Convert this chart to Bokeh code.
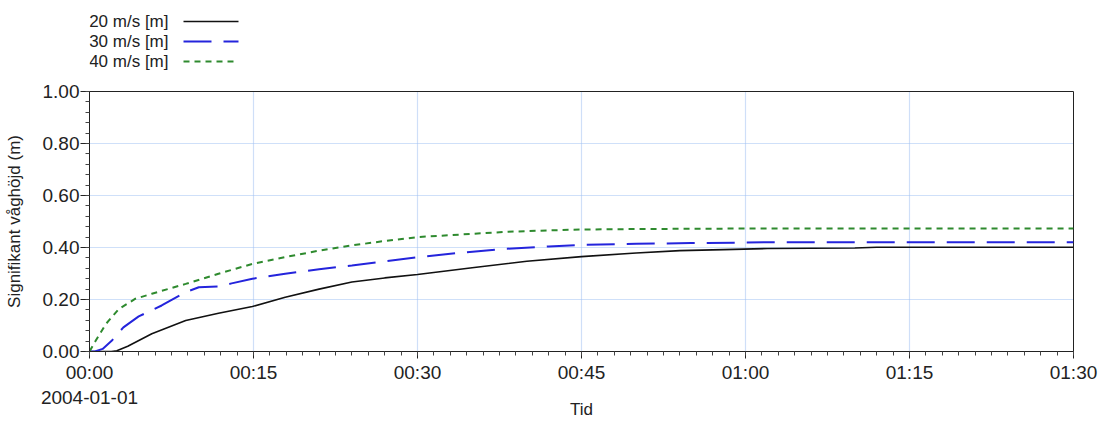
from datetime import datetime, timedelta
from bokeh.plotting import figure
from bokeh.layouts import column
from bokeh.models import Range1d, FixedTicker, DatetimeTickFormatter, NumeralTickFormatter
from bokeh.core.properties import value
from bokeh.embed import file_html
from bokeh.resources import INLINE

# ---- data (minutes after 2004-01-01 00:00, significant wave height in m) ----
t20 = [0, 1, 2, 2.5, 3.5, 5.7, 8.8, 11.8, 14.9, 17.9, 21, 24, 27, 30, 35, 40, 45, 50, 54, 58, 62, 66, 70, 72, 80, 90]
h20 = [0, 0, 0, 0.003, 0.02, 0.068, 0.119, 0.147, 0.173, 0.209, 0.24, 0.267, 0.283, 0.296, 0.322, 0.347, 0.365,
       0.379, 0.388, 0.392, 0.396, 0.397, 0.398, 0.401, 0.401, 0.401]
t30 = [0, 0.5, 1.2, 2, 3.1, 4.5, 6.6, 8.8, 10, 11.8, 13, 14.9, 17.9, 21, 24, 27, 30, 34, 38, 42, 45, 50, 55, 62, 70, 80, 90]
h30 = [0, 0, 0.01, 0.04, 0.093, 0.135, 0.177, 0.228, 0.247, 0.25, 0.262, 0.28, 0.299, 0.316, 0.331, 0.347, 0.363,
       0.38, 0.395, 0.404, 0.41, 0.414, 0.417, 0.42, 0.42, 0.42, 0.42]
t40 = [0, 0.55, 1.5, 2.7, 4.2, 5.7, 8.8, 11.8, 14.9, 17.9, 21, 24, 27, 30, 34, 38, 42, 45, 50, 60, 70, 90]
h40 = [0, 0.04, 0.106, 0.164, 0.203, 0.222, 0.26, 0.299, 0.337, 0.363, 0.388, 0.408, 0.425, 0.44, 0.45, 0.46,
       0.466, 0.469, 0.471, 0.473, 0.473, 0.473]

series_names = ["20 m/s [m]", "30 m/s [m]", "40 m/s [m]"]
x_tick_minutes = [0, 15, 30, 45, 60, 75, 90]
y_ticks = [0.0, 0.2, 0.4, 0.6, 0.8, 1.0]

base = datetime(2004, 1, 1)
EPOCH = datetime(1970, 1, 1)


def to_dt(mins):
    return [base + timedelta(minutes=m) for m in mins]


def to_ms(mins):
    return [((base + timedelta(minutes=m)) - EPOCH).total_seconds() * 1000.0 for m in mins]


FONT = "Liberation Sans"
TXT = "#222222"
W = 1100
LEG_H = 72
FL, FR = 89, 1073   # frame left / right in page pixels

styles = [
    dict(color="#111111", width=1.6, dash="solid"),
    dict(color="#2424dc", width=2.0, dash="28 12"),
    dict(color="#2e8a2e", width=2.0, dash="6 5"),
]

# ---- legend strip (page-pixel coordinates, y down; frame aligned with main chart) ----
leg = figure(width=W, height=LEG_H, x_range=Range1d(FL, FR), y_range=Range1d(LEG_H, 0),
             output_backend="svg", toolbar_location=None, min_border=0,
             min_border_left=FL, min_border_right=W - FR)
leg.axis.visible = False
leg.grid.visible = False
leg.outline_line_color = None
for i, (name, st) in enumerate(zip(series_names, styles)):
    cy = 21 + i * 20
    leg.text(x=[168], y=[cy], text=[name], text_align="right", text_baseline="middle",
             text_font=value(FONT), text_font_size="17px", text_color=TXT)
    leg.line(x=[183, 238], y=[cy, cy], line_color=st["color"], line_width=st["width"], line_dash=st["dash"])

# ---- main chart ----
p = figure(width=W, height=421 - LEG_H, x_axis_type="datetime", output_backend="svg", toolbar_location=None,
           x_range=Range1d(base, base + timedelta(minutes=90)), y_range=Range1d(0, 1),
           min_border_left=FL, min_border_right=W - FR, min_border_top=19, min_border_bottom=70)
p.outline_line_color = "#222222"
p.outline_line_width = 1

for (tt, hh), st in zip([(t20, h20), (t30, h30), (t40, h40)], styles):
    p.line(to_dt(tt), hh, line_color=st["color"], line_width=st["width"], line_dash=st["dash"])

xa = p.xaxis[0]
xa.ticker = FixedTicker(ticks=to_ms(x_tick_minutes), minor_ticks=to_ms([i * 1.5 for i in range(61)]))
xa.formatter = DatetimeTickFormatter(minutes="%H:%M", hourmin="%H:%M", hours="%H:%M", minsec="%H:%M",
                                     seconds="%H:%M", days="%H:%M",
                                     context="%Y-%m-%d", context_which="start", context_location="below")
xa.axis_label = "Tid"
ya = p.yaxis[0]
ya.ticker = FixedTicker(ticks=y_ticks, minor_ticks=[i * 0.04 for i in range(26)])
ya.formatter = NumeralTickFormatter(format="0.00")
ya.axis_label = "Signifikant våghöjd (m)"

for ax in (xa, ya):
    ax.axis_line_color = "#222222"
    ax.major_tick_line_color = "#222222"
    ax.minor_tick_line_color = "#444444"
    ax.major_tick_in = 0
    ax.minor_tick_in = 0
    ax.major_label_text_font = FONT
    ax.major_label_text_font_size = "19px"
    ax.major_label_text_color = TXT
    ax.axis_label_text_font = FONT
    ax.axis_label_text_font_size = "17px"
    ax.axis_label_text_font_style = "normal"
    ax.axis_label_text_color = TXT
xa.major_tick_out = 7
xa.minor_tick_out = 4
xa.major_label_standoff = 3
xa.axis_label_standoff = -11
ya.major_tick_out = 9
ya.minor_tick_out = 4
ya.major_label_standoff = 1
ya.axis_label_standoff = 16

for g in (p.xgrid, p.ygrid):
    g.grid_line_color = "#9fc0f2"
    g.grid_line_dash = "1 1"
    g.grid_line_width = 1.2
    g.grid_line_alpha = 1.0

layout = column(leg, p, spacing=0)
open("out.html", "w").write(file_html(layout, INLINE))
